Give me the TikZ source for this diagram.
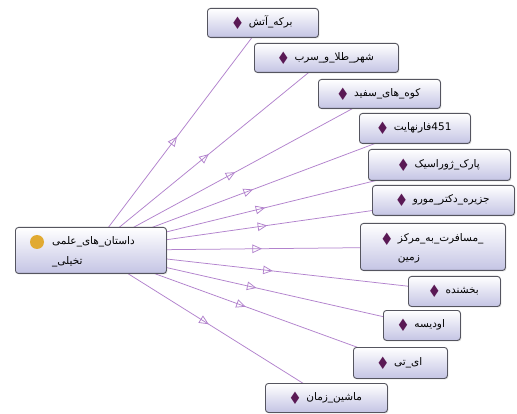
\documentclass[tikz,border=0pt]{standalone}
\usepackage{fontspec}
\newfontfamily\arabicfont[Script=Arabic]{DejaVu Sans}
\newfontfamily\symfont{DejaVu Sans}
\TeXXeTstate=1
\usetikzlibrary{arrows.meta,decorations.markings,backgrounds,shadows}
\definecolor{edgecol}{RGB}{178,130,205}
\definecolor{boxborder}{RGB}{85,85,95}
\definecolor{boxbottom}{RGB}{196,196,228}
\definecolor{diacol}{RGB}{90,25,85}
\definecolor{classcol}{RGB}{225,170,50}
\newcommand\dia{\textcolor{diacol}{\raisebox{-2pt}{\scalebox{1.05}[1.55]{\symfont ◆}}}\hspace{7pt}}
\newcommand\ar[1]{\beginR #1\endR}
\tikzset{
  onbox/.style={draw=boxborder, line width=0.9pt, rounded corners=3pt,
    top color=white, bottom color=boxbottom, inner sep=0pt, anchor=north west,
    drop shadow={opacity=0.25, shadow xshift=1pt, shadow yshift=-1pt},
    font=\arabicfont\fontsize{10.5}{19}\selectfont},
  link/.style={draw=edgecol, line width=0.75pt, postaction={decorate},
    decoration={markings, mark=at position 0.5 with
      {\arrow[edgecol, line width=0.75pt]{Triangle[open, length=9.5pt, width=8.5pt]}}}},
}
\begin{document}
\begin{tikzpicture}[x=1pt, y=-1pt]
\useasboundingbox (0,0) rectangle (517,414);
% main class
\node[onbox, minimum width=151pt, minimum height=46pt] (main) at (15,227) {};
\node[circle, fill=classcol, minimum size=14pt, inner sep=0pt] (maincirc) at (37,242) {};
\node[anchor=west, inner sep=0pt, font=\arabicfont\fontsize{10.5}{20}\selectfont, align=left] (maintext) at (52,252)
  {\ar{داستان\_های\_علمی}\\\_\ar{تخیلی}};
% individuals
\node[onbox, minimum width=111pt, minimum height=29pt] (b1) at (207,8) {\dia\ar{برکه\_آتش}};
\node[onbox, minimum width=144pt, minimum height=29pt] (b2) at (254,43) {\dia\ar{شهر\_طلا\_و\_سرب}};
\node[onbox, minimum width=122pt, minimum height=29pt] (b3) at (318,79) {\dia\ar{کوه\_های\_سفید}};
\node[onbox, minimum width=111pt, minimum height=30pt] (b4) at (359,113) {\dia\ar{فارنهایت}451};
\node[onbox, minimum width=142pt, minimum height=31pt] (b5) at (368,149) {\dia\ar{پارک\_ژوراسیک}};
\node[onbox, minimum width=142pt, minimum height=30pt] (b6) at (372,185) {\dia\ar{جزیره\_دکتر\_مورو}};
\node[onbox, minimum width=145pt, minimum height=47pt] (b7) at (360,223)
  {\dia\begin{tabular}[t]{@{}l@{}}\ar{مسافرت\_به\_مرکز}\_\\\ar{زمین}\end{tabular}};
\node[onbox, minimum width=92pt, minimum height=30pt] (b8) at (408,276) {\dia\ar{بخشنده}};
\node[onbox, minimum width=77pt, minimum height=30pt] (b9) at (383,310) {\dia\ar{اودیسه}};
\node[onbox, minimum width=94pt, minimum height=31pt] (b10) at (353,347) {\dia\ar{ای\_تی}};
\node[onbox, minimum width=122pt, minimum height=29pt] (b11) at (265,383) {\dia\ar{ماشین\_زمان}};
\begin{scope}[on background layer]
  \fill[white] (0,0) rectangle (517,414);
  \foreach \t in {b1,b2,b3,b4,b5,b6,b7,b8,b9,b10,b11}
    \draw[link] (main.center) -- (\t.center);
\end{scope}
\end{tikzpicture}
\end{document}
